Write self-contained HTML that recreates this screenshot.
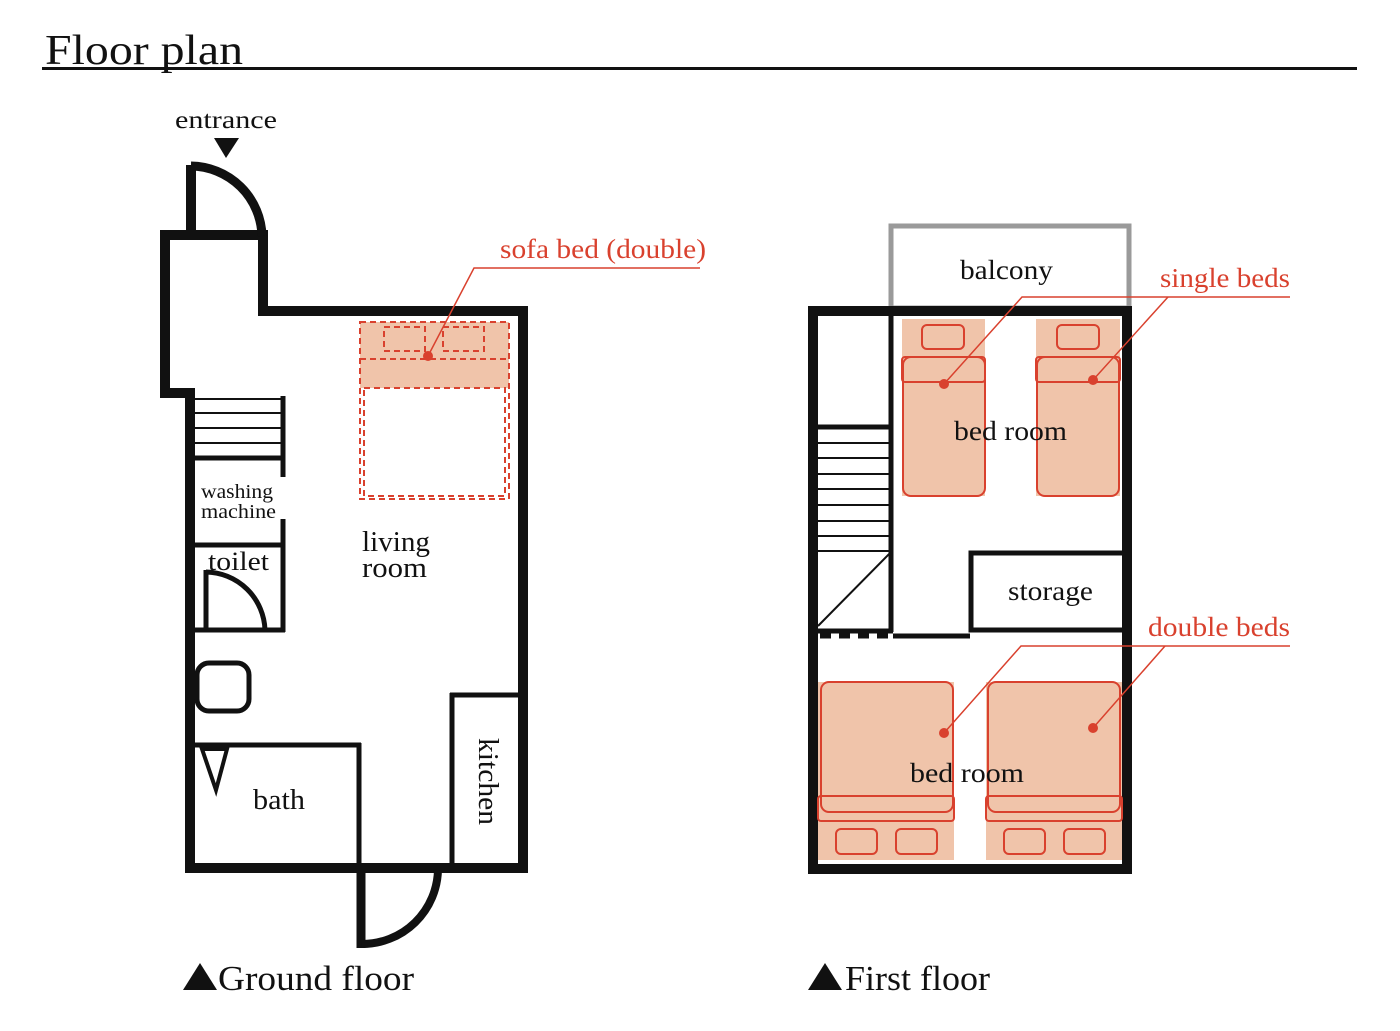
<!DOCTYPE html>
<html><head><meta charset="utf-8"><style>
html,body{margin:0;padding:0;background:#fff;}
svg{display:block;}
text{font-family:"Liberation Serif",serif;fill:#111;}
.r{fill:#d9412e;}
</style></head><body>
<svg width="1400" height="1031" viewBox="0 0 1400 1031" xmlns="http://www.w3.org/2000/svg">
<text x="45" y="64" font-size="42" textLength="198" lengthAdjust="spacingAndGlyphs">Floor plan</text>
<rect x="42" y="67" width="1315" height="3" fill="#111"/>

<!-- ground floor -->
<text x="175" y="128" font-size="25" textLength="102" lengthAdjust="spacingAndGlyphs">entrance</text>
<polygon points="214,138 239,138 226,158" fill="#111"/>
<path d="M165,235 H263 V311 H523 V868 H190 V393 H165 Z" fill="none" stroke="#111" stroke-width="10"/>
<line x1="191" y1="165" x2="191" y2="235" stroke="#111" stroke-width="10"/>
<path d="M191,166 A72,72 0 0 1 262,236" fill="none" stroke="#111" stroke-width="9"/>
<g stroke="#111" stroke-width="2">
<line x1="195" y1="399" x2="283" y2="399"/><line x1="195" y1="413" x2="283" y2="413"/>
<line x1="195" y1="428" x2="283" y2="428"/><line x1="195" y1="443" x2="283" y2="443"/>
</g>
<g stroke="#111" stroke-width="5" fill="none">
<line x1="195" y1="458" x2="285" y2="458"/>
<line x1="283" y1="396" x2="283" y2="477"/>
<line x1="283" y1="519" x2="283" y2="632"/>
<line x1="195" y1="545" x2="285" y2="545"/>
<line x1="195" y1="630" x2="285" y2="630"/>
<line x1="206" y1="570" x2="206" y2="630"/>
<path d="M206,572 A60,60 0 0 1 265,630"/>
<rect x="197" y="663" width="52" height="48" rx="12"/>
<line x1="195" y1="745" x2="361" y2="745"/>
<line x1="359" y1="743" x2="359" y2="868"/>
<line x1="450" y1="695" x2="523" y2="695"/>
<line x1="452" y1="693" x2="452" y2="868"/>
</g>
<polygon points="202,749 227,749 216,790" fill="none" stroke="#111" stroke-width="4"/>
<line x1="361" y1="868" x2="361" y2="948" stroke="#111" stroke-width="9"/>
<path d="M362,944 A76,76 0 0 0 438,870" fill="none" stroke="#111" stroke-width="8"/>

<!-- sofa bed -->
<rect x="360" y="322" width="149" height="66" fill="#f0c4aa"/>
<g stroke="#d9412e" stroke-width="2" stroke-dasharray="6,4" fill="none">
<rect x="360" y="322" width="149" height="177"/>
<rect x="364" y="388" width="141" height="108"/>
<line x1="360" y1="359" x2="509" y2="359"/>
<rect x="384" y="327" width="41" height="24"/>
<rect x="443" y="327" width="41" height="24"/>
</g>
<circle cx="428" cy="356" r="5" fill="#d9412e"/>
<polyline points="428,356 474,268 700,268" fill="none" stroke="#d9412e" stroke-width="1.5"/>
<text x="500" y="258" font-size="27" class="r" textLength="206" lengthAdjust="spacingAndGlyphs">sofa bed (double)</text>

<text x="201" y="498" font-size="20" textLength="72" lengthAdjust="spacingAndGlyphs">washing</text>
<text x="201" y="518" font-size="20" textLength="75" lengthAdjust="spacingAndGlyphs">machine</text>
<text x="208" y="570" font-size="26" textLength="61" lengthAdjust="spacingAndGlyphs">toilet</text>
<text x="362" y="551" font-size="28" textLength="68" lengthAdjust="spacingAndGlyphs">living</text>
<text x="362" y="577" font-size="28" textLength="65" lengthAdjust="spacingAndGlyphs">room</text>
<text x="253" y="809" font-size="28" textLength="52" lengthAdjust="spacingAndGlyphs">bath</text>
<text x="0" y="0" font-size="28" transform="translate(479,738) rotate(90)" textLength="87" lengthAdjust="spacingAndGlyphs">kitchen</text>
<polygon points="183,990 200,963 217,990" fill="#111"/>
<text x="218" y="990" font-size="35" textLength="196" lengthAdjust="spacingAndGlyphs">Ground floor</text>

<!-- first floor -->
<rect x="891" y="226" width="238" height="82" fill="none" stroke="#9a9a9a" stroke-width="5"/>
<text x="960" y="279" font-size="27" textLength="93" lengthAdjust="spacingAndGlyphs">balcony</text>
<rect x="813" y="311" width="314" height="558" fill="none" stroke="#111" stroke-width="10"/>
<line x1="891" y1="311" x2="891" y2="632" stroke="#111" stroke-width="5"/>
<g stroke="#111" stroke-width="2">
<line x1="818" y1="443" x2="891" y2="443"/><line x1="818" y1="458" x2="891" y2="458"/>
<line x1="818" y1="474" x2="891" y2="474"/><line x1="818" y1="489" x2="891" y2="489"/>
<line x1="818" y1="505" x2="891" y2="505"/><line x1="818" y1="521" x2="891" y2="521"/>
<line x1="818" y1="536" x2="891" y2="536"/><line x1="818" y1="551" x2="891" y2="551"/>
<line x1="818" y1="626" x2="891" y2="552"/>
</g>
<g stroke="#111" stroke-width="5" fill="none">
<line x1="818" y1="427" x2="891" y2="427"/>
<line x1="818" y1="631" x2="893" y2="631"/>
<line x1="820" y1="636" x2="893" y2="636" stroke-dasharray="11,8"/>
<line x1="893" y1="636" x2="970" y2="636"/>
<polyline points="1127,553 971,553 971,630 1127,630"/>
</g>
<text x="1008" y="600" font-size="27" textLength="85" lengthAdjust="spacingAndGlyphs">storage</text>

<!-- single beds -->
<g fill="#f0c4aa"><rect x="902" y="319" width="83" height="177"/><rect x="1036" y="319" width="84" height="177"/></g>
<g stroke="#d9412e" stroke-width="2" fill="none">
<rect x="903" y="357" width="82" height="139" rx="8"/>
<rect x="902" y="357" width="83" height="25" rx="3"/>
<rect x="922" y="325" width="42" height="24" rx="5"/>
<rect x="1037" y="357" width="82" height="139" rx="8"/>
<rect x="1036" y="357" width="84" height="25" rx="3"/>
<rect x="1057" y="325" width="42" height="24" rx="5"/>
</g>
<circle cx="944" cy="384" r="5" fill="#d9412e"/>
<circle cx="1093" cy="380" r="5" fill="#d9412e"/>
<polyline points="944,384 1022,297 1290,297" fill="none" stroke="#d9412e" stroke-width="1.5"/>
<line x1="1093" y1="380" x2="1168" y2="297" stroke="#d9412e" stroke-width="1.5"/>
<text x="1160" y="287" font-size="27" class="r" textLength="130" lengthAdjust="spacingAndGlyphs">single beds</text>
<text x="954" y="440" font-size="27" textLength="113" lengthAdjust="spacingAndGlyphs">bed room</text>

<!-- double beds -->
<g fill="#f0c4aa"><rect x="818" y="682" width="136" height="178"/><rect x="986" y="682" width="136" height="178"/></g>
<g stroke="#d9412e" stroke-width="2" fill="none">
<rect x="821" y="682" width="132" height="130" rx="8"/>
<rect x="818" y="796" width="136" height="25" rx="3"/>
<rect x="836" y="829" width="41" height="25" rx="5"/>
<rect x="896" y="829" width="41" height="25" rx="5"/>
<rect x="988" y="682" width="132" height="130" rx="8"/>
<rect x="986" y="796" width="136" height="25" rx="3"/>
<rect x="1004" y="829" width="41" height="25" rx="5"/>
<rect x="1064" y="829" width="41" height="25" rx="5"/>
</g>
<circle cx="944" cy="733" r="5" fill="#d9412e"/>
<circle cx="1093" cy="728" r="5" fill="#d9412e"/>
<polyline points="944,733 1021,646 1290,646" fill="none" stroke="#d9412e" stroke-width="1.5"/>
<line x1="1093" y1="728" x2="1165" y2="646" stroke="#d9412e" stroke-width="1.5"/>
<text x="1148" y="636" font-size="27" class="r" textLength="142" lengthAdjust="spacingAndGlyphs">double beds</text>
<text x="910" y="782" font-size="27" textLength="114" lengthAdjust="spacingAndGlyphs">bed room</text>
<polygon points="808,990 825,963 842,990" fill="#111"/>
<text x="845" y="990" font-size="35" textLength="145" lengthAdjust="spacingAndGlyphs">First floor</text>
</svg>
</body></html>
